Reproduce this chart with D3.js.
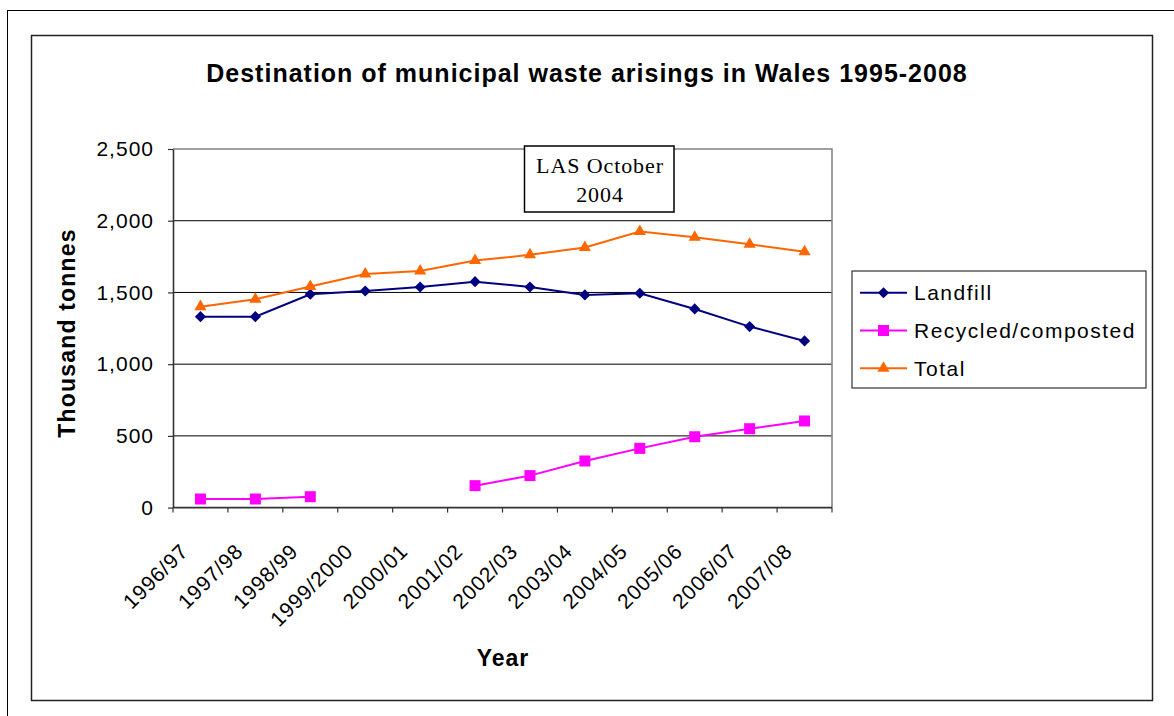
<!DOCTYPE html>
<html>
<head>
<meta charset="utf-8">
<script src="https://cdn.jsdelivr.net/npm/d3@7"></script>
<style>
  body { margin: 0; background: #fff; }
  svg { display: block; }
  text { font-family: Arial, "Liberation Sans", sans-serif; fill: #000; }
</style>
</head>
<body>
<div id="chart"></div>
<script>
var years = ["1996/97", "1997/98", "1998/99", "1999/2000", "2000/01", "2001/02",
             "2002/03", "2003/04", "2004/05", "2005/06", "2006/07", "2007/08"];
var landfill = [1331, 1331, 1487, 1510, 1538, 1575, 1538, 1483, 1494, 1385, 1262, 1162];
var recycled = [60, 60, 76, null, null, 153, 223, 325, 413, 494, 550, 604];
var total = [1401, 1453, 1541, 1629, 1650, 1722, 1762, 1813, 1925, 1885, 1836, 1783];
var yTicks = [0, 500, 1000, 1500, 2000, 2500];

var series = [
    { name: "Landfill", values: landfill, color: "#000080", symbol: "diamond" },
    { name: "Recycled/composted", values: recycled, color: "#ff00ff", symbol: "square" },
    { name: "Total", values: total, color: "#ff6600", symbol: "triangle" }
];

var svgWidth = 1174, svgHeight = 716;

var svg = d3.select("#chart").append("svg")
    .attr("width", svgWidth)
    .attr("height", svgHeight);

// outer page frame and chart frame
svg.append("rect")
    .attr("x", 7.5).attr("y", 10.5)
    .attr("width", 1300).attr("height", 800)
    .attr("fill", "none").attr("stroke", "#000").attr("stroke-width", 1);

svg.append("rect")
    .attr("x", 31.5).attr("y", 35.5)
    .attr("width", 1121).attr("height", 665)
    .attr("fill", "#fff").attr("stroke", "#222").attr("stroke-width", 1.5);

var plot = { left: 173, top: 149, right: 832, bottom: 507.6 };

var x = d3.scaleBand().domain(years).range([plot.left, plot.right]);
var y = d3.scaleLinear().domain([0, 2500]).range([plot.bottom, plot.top]);
var cx = function (i) { return x(years[i]) + x.bandwidth() / 2; };

// gridlines
svg.append("g")
    .selectAll("line")
    .data(yTicks.filter(function (d) { return d > 0 && d < 2500; }))
    .enter().append("line")
    .attr("x1", plot.left).attr("x2", plot.right)
    .attr("y1", function (d) { return y(d); })
    .attr("y2", function (d) { return y(d); })
    .attr("stroke", "#000").attr("stroke-width", 1);

// plot border (top/right grey)
svg.append("path")
    .attr("d", "M" + plot.left + "," + y(2500) + "H" + plot.right + "V" + plot.bottom)
    .attr("fill", "none").attr("stroke", "#808080").attr("stroke-width", 1.5);

// y axis
var yAxis = svg.append("g")
    .attr("transform", "translate(" + plot.left + ",0)")
    .call(d3.axisLeft(y).tickValues(yTicks).tickFormat(d3.format(",")).tickSize(5).tickSizeOuter(0).tickPadding(14));
yAxis.select(".domain").attr("stroke", "#333").attr("stroke-width", 1.6);
yAxis.selectAll(".tick line").attr("stroke", "#333").attr("stroke-width", 1.2);
yAxis.selectAll(".tick text")
    .style("font-size", "21px")
    .style("letter-spacing", "1px")
    .style("font-family", "Arial, 'Liberation Sans', sans-serif")
    .attr("fill", "#000");

// x axis: ticks at category boundaries
var xAxis = svg.append("g");
xAxis.append("line")
    .attr("x1", plot.left).attr("x2", plot.right)
    .attr("y1", plot.bottom).attr("y2", plot.bottom)
    .attr("stroke", "#333").attr("stroke-width", 1.6);
xAxis.selectAll(".xtick")
    .data(years.concat(["end"]))
    .enter().append("line")
    .attr("class", "xtick")
    .attr("x1", function (d, i) { return i < years.length ? x(d) : plot.right; })
    .attr("x2", function (d, i) { return i < years.length ? x(d) : plot.right; })
    .attr("y1", plot.bottom).attr("y2", plot.bottom + 5)
    .attr("stroke", "#333").attr("stroke-width", 1.2);
xAxis.selectAll(".xlabel")
    .data(years)
    .enter().append("text")
    .attr("class", "xlabel")
    .attr("transform", function (d, i) {
        return "translate(" + (cx(i) - 11) + "," + (plot.bottom + 45) + ") rotate(-45)";
    })
    .attr("text-anchor", "end")
    .style("font-size", "21px")
    .style("letter-spacing", "0.8px")
    .text(function (d) { return d; });

// lines and markers
var line = d3.line()
    .defined(function (d) { return d != null; })
    .x(function (d, i) { return cx(i); })
    .y(function (d) { return y(d); });

// diamond = square turned 45 degrees
var symbols = { diamond: d3.symbolSquare, square: d3.symbolSquare, triangle: d3.symbolTriangle };
var symbolSize = { diamond: 62, square: 121, triangle: 64 };
var symbolTurn = { diamond: 45, square: 0, triangle: 0 };

series.forEach(function (s) {
    svg.append("path")
        .datum(s.values)
        .attr("d", line)
        .attr("fill", "none")
        .attr("stroke", s.color)
        .attr("stroke-width", 2);

    svg.append("g").selectAll("path")
        .data(s.values.map(function (v, i) { return { v: v, i: i }; }).filter(function (d) { return d.v != null; }))
        .enter().append("path")
        .attr("transform", function (d) {
            return "translate(" + cx(d.i) + "," + y(d.v) + ") rotate(" + symbolTurn[s.symbol] + ")";
        })
        .attr("d", d3.symbol().type(symbols[s.symbol]).size(symbolSize[s.symbol]))
        .attr("fill", s.color);
});

// annotation
var note = svg.append("g");
note.append("rect")
    .attr("x", 524.5).attr("y", 146)
    .attr("width", 149.5).attr("height", 66)
    .attr("fill", "#fff").attr("stroke", "#000").attr("stroke-width", 1.5);
note.selectAll("text")
    .data(["LAS October", "2004"])
    .enter().append("text")
    .attr("x", 600).attr("y", function (d, i) { return 173 + i * 28.5; })
    .attr("text-anchor", "middle")
    .style("font-family", "'Liberation Serif', 'Times New Roman', serif")
    .style("font-size", "22px")
    .style("letter-spacing", "0.9px")
    .text(function (d) { return d; });

// title and axis titles
svg.append("text")
    .attr("x", 587).attr("y", 82)
    .attr("text-anchor", "middle")
    .style("font-size", "25px").style("font-weight", "bold").style("letter-spacing", "1px")
    .text("Destination of municipal waste arisings in Wales 1995-2008");

svg.append("text")
    .attr("transform", "translate(75,333) rotate(-90)")
    .attr("text-anchor", "middle")
    .style("font-size", "23px").style("font-weight", "bold").style("letter-spacing", "1.2px")
    .text("Thousand tonnes");

svg.append("text")
    .attr("x", 503).attr("y", 666)
    .attr("text-anchor", "middle")
    .style("font-size", "23px").style("font-weight", "bold").style("letter-spacing", "1px")
    .text("Year");

// legend
var legend = svg.append("g");
legend.append("rect")
    .attr("x", 852).attr("y", 271)
    .attr("width", 294).attr("height", 117)
    .attr("fill", "#fff").attr("stroke", "#333").attr("stroke-width", 1.2);

var item = legend.selectAll(".item")
    .data(series)
    .enter().append("g")
    .attr("class", "item")
    .attr("transform", function (d, i) { return "translate(860," + (292.7 + i * 37.8) + ")"; });
item.append("line")
    .attr("x1", 0).attr("x2", 47)
    .attr("stroke", function (d) { return d.color; })
    .attr("stroke-width", 2);
item.append("path")
    .attr("transform", function (d) { return "translate(23.5,0) rotate(" + symbolTurn[d.symbol] + ")"; })
    .attr("d", function (d) { return d3.symbol().type(symbols[d.symbol]).size(symbolSize[d.symbol])(); })
    .attr("fill", function (d) { return d.color; });
item.append("text")
    .attr("x", 54).attr("dy", "0.36em")
    .style("font-size", "21px").style("letter-spacing", "1.5px")
    .text(function (d) { return d.name; });
</script>
</body>
</html>
